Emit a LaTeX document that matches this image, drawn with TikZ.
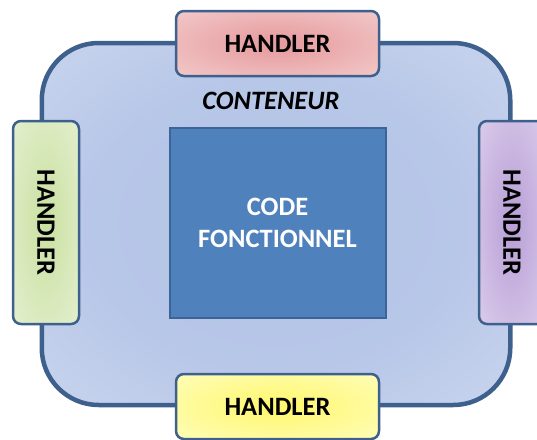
\documentclass[tikz,border=0pt]{standalone}
\usepackage{fontspec}
\setmainfont{Carlito}
\definecolor{edgeblue}{RGB}{62,96,140}
\definecolor{codeblue}{RGB}{79,129,189}
\definecolor{codeedge}{RGB}{60,100,150}
\pgfdeclareradialshading{contshade}{\pgfpoint{0bp}{0bp}}{rgb(0bp)=(0.70,0.77,0.90); rgb(20bp)=(0.72,0.78,0.91); rgb(55bp)=(0.87,0.90,0.96); rgb(75bp)=(0.87,0.90,0.96)}
\pgfdeclareradialshading{pinkshade}{\pgfpoint{0bp}{0bp}}{rgb(0bp)=(0.90,0.60,0.61); rgb(50bp)=(0.97,0.86,0.86); rgb(75bp)=(0.97,0.86,0.86)}
\pgfdeclareradialshading{greenshade}{\pgfpoint{0bp}{0bp}}{rgb(0bp)=(0.79,0.88,0.63); rgb(50bp)=(0.93,0.96,0.88); rgb(75bp)=(0.93,0.96,0.88)}
\pgfdeclareradialshading{purpleshade}{\pgfpoint{0bp}{0bp}}{rgb(0bp)=(0.72,0.62,0.84); rgb(50bp)=(0.91,0.87,0.95); rgb(75bp)=(0.91,0.87,0.95)}
\pgfdeclareradialshading{yellowshade}{\pgfpoint{0bp}{0bp}}{rgb(0bp)=(1.0,0.97,0.42); rgb(50bp)=(1.0,1.0,0.85); rgb(75bp)=(1.0,1.0,0.85)}
\begin{document}
\begin{tikzpicture}[x=1pt,y=-1pt,
  lbl/.style={font=\fontsize{26.5}{32}\selectfont\bfseries},
  handler/.style={lbl, draw=edgeblue, line width=2.5pt, rounded corners=8pt,
    inner sep=0pt, minimum width=203pt, minimum height=65pt},
]
\useasboundingbox (0,0) rectangle (537,439);
\begin{scope}
\clip (0,0) rectangle (537,439);
\node[draw=edgeblue, line width=4.5pt, rounded corners=57pt, inner sep=0pt,
  minimum width=468.5pt, minimum height=362pt,
  shade, shading=contshade] (cont) at (276,224) {};
\node[lbl, font=\fontsize{26.5}{32}\selectfont\bfseries\itshape] (title) at (271,101) {CONTENEUR};
\node[lbl, draw=codeedge, fill=codeblue, line width=2pt, text=white, align=center,
  minimum width=216pt, minimum height=190pt, inner sep=0pt] (code) at (277.5,222.5) {CODE\\FONCTIONNEL};
\node[handler, shade, shading=pinkshade] (top) at (277.5,43.5) {HANDLER};
\node[handler, shade, shading=yellowshade] (bottom) at (277.5,406.5) {HANDLER};
\node[handler, minimum height=66pt, rotate=-90, shade, shading=greenshade] (left) at (46,222.5) {HANDLER};
\node[handler, minimum height=66pt, rotate=-90, shade, shading=purpleshade] (right) at (512,222.5) {HANDLER};
\end{scope}
\end{tikzpicture}
\end{document}
